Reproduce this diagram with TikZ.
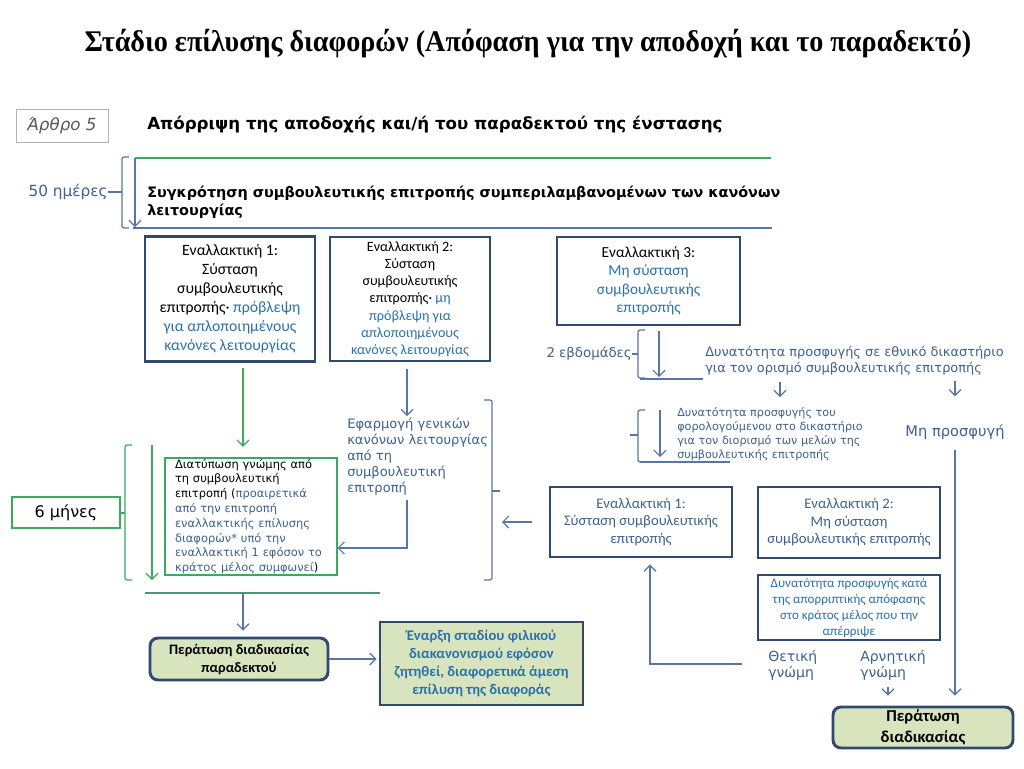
\documentclass[tikz,border=0pt]{standalone}
\usepackage{fontspec}
\setmainfont{DejaVu Sans}
\newfontfamily\calfont{Carlito}
\newfontfamily\serfont[FakeStretch=0.94]{Liberation Serif}
\usepackage{xcolor}
\usetikzlibrary{arrows.meta,positioning}
\definecolor{navy}{HTML}{2F4A6E}
\definecolor{steel}{HTML}{5677A3}
\definecolor{slate}{HTML}{3E6190}
\definecolor{calblue}{HTML}{2B72AA}
\definecolor{grn}{HTML}{3AAA5E}
\definecolor{olive}{HTML}{D8E4BE}
\newcommand\fsz[2]{\fontsize{#1}{#2}\selectfont}

\begin{document}
\begin{tikzpicture}[x=0.75pt, y=-0.75pt,
    box/.style={draw=navy, line width=2.2pt, align=center, inner sep=0pt},
    olbox/.style={box, fill=olive},
    lin/.style={steel, line width=0.9pt},
    arr/.style={lin, -{Straight Barb[length=4.5pt,width=9pt]}},
    garr/.style={arr, grn},
    note/.style={text=slate, align=left, inner sep=0pt}]
    \fill[white] (0,0) rectangle (1024,768);
    \useasboundingbox (0,0) rectangle (1024,768);

    % title and header
    \node[font=\serfont\bfseries\fsz{22.5}{26}] (title) at (528,44) {Στάδιο επίλυσης διαφορών (Απόφαση για την αποδοχή και το παραδεκτό)};
    \node[draw=gray!60, line width=0.6pt, minimum width=69pt, minimum height=24.75pt, inner sep=0pt,
          text=gray!70!black, font=\itshape\fsz{12.5}{14}] (art) at (62,126) {Άρθρο 5};
    \node[anchor=west, inner sep=0pt, font=\bfseries\fsz{12.5}{14}] (rej) at (147,125) {Απόρριψη της αποδοχής και/ή του παραδεκτού της ένστασης};
    \draw[grn, line width=0.9pt] (135,158) -- (771,158);
    \node[anchor=west, align=left, inner sep=0pt, font=\bfseries\fsz{10.8}{13.5}] (form) at (147,202)
        {Συγκρότηση συμβουλευτικής επιτροπής συμπεριλαμβανομένων των κανόνων\\λειτουργίας};
    \draw[lin] (133,228) -- (772,228);
    \draw[arr] (135,158) -- (135,227);
    \node[anchor=east, text=slate, inner sep=0pt, font=\fsz{11.5}{14}] (fifty) at (108,192) {50 ημέρες};

    % brackets
    \foreach \bx/\bt/\bb/\bm/\bl/\bc in {122/157/228/192/108/steel, 125/445/580/513/120/grn,
                                          638/330/378/354/632/steel, 638/410/462/435/630/steel} {
        \draw[lin, \bc, rounded corners=1.5pt] (\bx+7,\bt) -- (\bx,\bt) -- (\bx,\bb) -- (\bx+7,\bb);
        \draw[lin, \bc] (\bx,\bm) -- (\bl,\bm);
    }
    \draw[lin, rounded corners=1.5pt] (484,400) -- (492,400) -- (492,580) -- (484,580);
    \draw[lin] (492,491) -- (500,491);

    % first row of alternatives
    \node[box, minimum width=127.5pt, minimum height=93.75pt, font=\calfont\fsz{11.8}{14.3}] (alt1) at (230,299)
        {Εναλλακτική 1:\\Σύσταση\\συμβουλευτικής\\επιτροπής· \textcolor{calblue}{πρόβλεψη}\\\textcolor{calblue}{για απλοποιημένους}\\\textcolor{calblue}{κανόνες λειτουργίας}};
    \node[box, minimum width=120pt, minimum height=93pt, font=\calfont\fsz{10.6}{12.9}] (alt2) at (410,299)
        {Εναλλακτική 2:\\Σύσταση\\συμβουλευτικής\\επιτροπής· \textcolor{calblue}{μη}\\\textcolor{calblue}{πρόβλεψη για}\\\textcolor{calblue}{απλοποιημένους}\\\textcolor{calblue}{κανόνες λειτουργίας}};
    \node[box, minimum width=137.25pt, minimum height=66pt, font=\calfont\fsz{11.5}{13.8}] (alt3) at (648.5,281)
        {Εναλλακτική 3:\\\textcolor{calblue}{Μη σύσταση}\\\textcolor{calblue}{συμβουλευτικής}\\\textcolor{calblue}{επιτροπής}};

    % opinion part
    \node[draw=grn, line width=0.8pt, minimum width=129pt, minimum height=87.75pt, text width=114pt,
          align=left, inner sep=0pt, font=\fsz{8.6}{11.1}] (opin) at (251,516.5)
        {Διατύπωση γνώμης από\\τη συμβουλευτική\\επιτροπή (\textcolor{slate}{προαιρετικά}\\\textcolor{slate}{από την επιτροπή}\\\textcolor{slate}{εναλλακτικής επίλυσης}\\\textcolor{slate}{διαφορών* υπό την}\\\textcolor{slate}{εναλλακτική 1 εφόσον το}\\\textcolor{slate}{κράτος μέλος συμφωνεί})};
    \node[note, anchor=west, font=\fsz{9.8}{12}] (eff) at (347,457)
        {Εφαρμογή γενικών\\κανόνων λειτουργίας\\από τη\\συμβουλευτική\\επιτροπή};
    \node[draw=grn, line width=0.8pt, minimum width=81pt, minimum height=23.25pt, inner sep=0pt,
          font=\fsz{12}{14}] (six) at (66,512.5) {6 μήνες};

    \coordinate (ga) at (243,368);
    \draw[garr, shorten >=8pt] (ga) -- (ga |- opin.north);
    \draw[garr] (152,445) -- (152,580);
    \coordinate (ba) at (407,369);
    \draw[arr, shorten >=1.5pt] (ba) -- (ba |- eff.north);
    \coordinate (fb) at (407,548);
    \draw[arr, shorten <=3pt] (ba |- eff.south) -- (fb) -- (fb -| opin.east);

    % end of admissibility
    \draw[lin, grn!75!steel] (145,593) -- (380,593);
    \node[olbox, rounded corners=6pt, minimum width=133.5pt, minimum height=31.5pt,
          font=\calfont\bfseries\fsz{10.8}{13.5}] (perat) at (239,659) {Περάτωση διαδικασίας\\παραδεκτού};
    \node[olbox, minimum width=152.25pt, minimum height=62.25pt, text=calblue,
          font=\calfont\bfseries\fsz{11}{13.5}] (enar) at (481.5,663.5)
        {Έναρξη σταδίου φιλικού\\διακανονισμού εφόσον\\ζητηθεί, διαφορετικά άμεση\\επίλυση της διαφοράς};
    \coordinate (gl) at (243,593);
    \draw[arr, shorten >=4.5pt] (gl) -- (gl |- perat.north);
    \draw[arr, shorten >=1.5pt] (perat.east) -- (perat.east -| enar.west);

    % no committee branch
    \node[anchor=east, text=slate, inner sep=0pt, font=\fsz{10}{12}] (two) at (632,354) {2 εβδομάδες};
    \coordinate (k2) at (659,377);
    \draw[arr, shorten <=3.75pt] (alt3.south -| k2) -- (k2);
    \draw[lin] (640,379) -- (703,379);
    \node[note, anchor=west, font=\fsz{9.7}{12}] (nat) at (705,361)
        {Δυνατότητα προσφυγής σε εθνικό δικαστήριο\\για τον ορισμό συμβουλευτικής επιτροπής};
    \node[note, anchor=west, font=\fsz{8.4}{10.5}] (fty) at (677,434)
        {Δυνατότητα προσφυγής του\\φορολογούμενου στο δικαστήριο\\για τον διορισμό των μελών της\\συμβουλευτικής επιτροπής};
    \node[text=slate, inner sep=0pt, font=\fsz{11}{13}] (mpr) at (955,432) {Μη προσφυγή};
    \coordinate (n1) at (780,382);
    \draw[arr, shorten >=7.5pt] (n1) -- (n1 |- fty.north);
    \draw[arr, shorten <=3.75pt, shorten >=21pt] (nat.south -| mpr) -- (mpr.north);
    \draw[arr] (660,410) -- (660,457);
    \draw[lin] (640,462) -- (730,462);

    % second row of alternatives
    \node[box, minimum width=136.5pt, minimum height=52.5pt, text=slate, font=\calfont\fsz{11}{13.1}] (alt4) at (641,522)
        {Εναλλακτική 1:\\Σύσταση συμβουλευτικής\\επιτροπής};
    \node[box, minimum width=136.5pt, minimum height=53.25pt, text=slate, font=\calfont\fsz{11}{13.1}] (alt5) at (849,522.5)
        {Εναλλακτική 2:\\Μη σύσταση\\συμβουλευτικής επιτροπής};
    \node[box, minimum width=136.5pt, minimum height=48.75pt, text=calblue, font=\calfont\fsz{9.8}{12}] (appl) at (849,607.5)
        {Δυνατότητα προσφυγής κατά\\της απορριπτικής απόφασης\\στο κράτος μέλος που την\\απέρριψε};
    \coordinate (rb) at (502,522);
    \draw[arr, shorten <=12.75pt] (alt4.west) -- (rb);

    \node[note, anchor=north west, font=\fsz{10.5}{12}] (thet) at (768,650) {Θετική\\γνώμη};
    \node[note, anchor=north west, font=\fsz{10.5}{12}] (arn) at (860,650) {Αρνητική\\γνώμη};
    \node[olbox, rounded corners=6pt, minimum width=135pt, minimum height=30.75pt,
          font=\calfont\bfseries\fsz{12.5}{16}] (fin) at (923,727.5) {Περάτωση\\διαδικασίας};

    \coordinate (ps) at (742,664);
    \coordinate (pc) at (650,664);
    \draw[arr, shorten >=4.5pt] (ps) -- (pc) -- (pc |- alt4.south);
    \coordinate (an) at (888,687);
    \draw[arr, shorten >=7.5pt] (an) -- (an |- fin.north);
    \draw[arr, shorten <=7.5pt, shorten >=7.5pt] (mpr.south) -- (mpr.south |- fin.north);
\end{tikzpicture}
\end{document}
